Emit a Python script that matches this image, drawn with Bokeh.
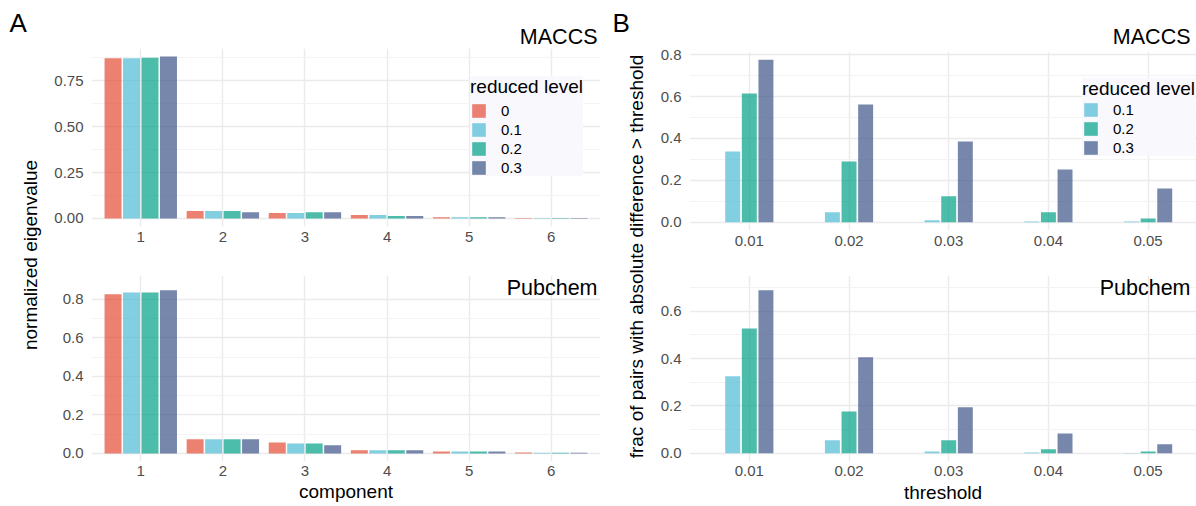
import numpy as np
from bokeh.plotting import figure
from bokeh.models import (FixedTicker, PrintfTickFormatter, Legend, LegendItem, Label, Range1d, Title)
from bokeh.layouts import row, column
from bokeh.embed import file_html
from bokeh.resources import INLINE

# ---------------- data ----------------
components = ["1", "2", "3", "4", "5", "6"]
levels_a = ["0", "0.1", "0.2", "0.3"]
levels_b = ["0.1", "0.2", "0.3"]

maccs_eig_l0 = [0.873, 0.040, 0.029, 0.018, 0.007, 0.003]
maccs_eig_l1 = [0.873, 0.040, 0.029, 0.018, 0.007, 0.002]
maccs_eig_l2 = [0.876, 0.040, 0.034, 0.013, 0.007, 0.002]
maccs_eig_l3 = [0.882, 0.034, 0.034, 0.013, 0.007, 0.002]

pubchem_eig_l0 = [0.826, 0.073, 0.057, 0.016, 0.010, 0.005]
pubchem_eig_l1 = [0.836, 0.073, 0.052, 0.016, 0.010, 0.004]
pubchem_eig_l2 = [0.836, 0.073, 0.052, 0.016, 0.010, 0.004]
pubchem_eig_l3 = [0.847, 0.073, 0.042, 0.016, 0.010, 0.004]

thresholds = ["0.01", "0.02", "0.03", "0.04", "0.05"]
maccs_frac_l1 = [0.338, 0.048, 0.010, 0.004, 0.004]
maccs_frac_l2 = [0.614, 0.290, 0.124, 0.048, 0.019]
maccs_frac_l3 = [0.776, 0.562, 0.386, 0.252, 0.162]

pubchem_frac_l1 = [0.325, 0.055, 0.008, 0.004, 0.001]
pubchem_frac_l2 = [0.527, 0.177, 0.055, 0.017, 0.008]
pubchem_frac_l3 = [0.688, 0.405, 0.194, 0.084, 0.038]

colors_a = ["#E64B35", "#4DBBD5", "#00A087", "#3C5488"]
colors_b = ["#4DBBD5", "#00A087", "#3C5488"]

FONT = "Liberation Sans"
TICK_COLOR = "#4D4D4D"
GRID_MAJOR = "#EBEBEB"
GRID_MINOR = "#F3F3F3"
STRIP_SIZE = "21.5px"
TITLE_SIZE = "19px"


def base_fig(width, height, xr, yr, mb_left, mb_top, mb_bottom, yticks, yminor, yfmt, xticks, xlabels):
    p = figure(width=width, height=height, x_range=Range1d(*xr), y_range=Range1d(*yr),
               toolbar_location=None, output_backend="svg",
               min_border_left=mb_left, min_border_right=0,
               min_border_top=mb_top, min_border_bottom=mb_bottom)
    p.outline_line_color = None
    p.background_fill_color = "white"
    p.border_fill_color = "white"
    for ax in (p.xaxis[0], p.yaxis[0]):
        ax.axis_line_color = None
        ax.major_tick_line_color = None
        ax.minor_tick_line_color = None
        ax.major_tick_out = 0
        ax.major_tick_in = 0
        ax.minor_tick_out = 0
        ax.minor_tick_in = 0
        ax.major_label_text_font = FONT
        ax.major_label_text_font_size = "15px"
        ax.major_label_text_color = TICK_COLOR
        ax.axis_label_text_font = FONT
        ax.axis_label_text_font_size = TITLE_SIZE
        ax.axis_label_text_font_style = "normal"
        ax.axis_label_text_color = "black"
    p.yaxis[0].ticker = FixedTicker(ticks=yticks, minor_ticks=yminor)
    p.yaxis[0].formatter = PrintfTickFormatter(format=yfmt)
    p.yaxis[0].major_label_standoff = 8
    p.xaxis[0].ticker = FixedTicker(ticks=xticks)
    p.xaxis[0].major_label_overrides = {t: l for t, l in zip(xticks, xlabels)}
    p.xaxis[0].major_label_standoff = 5
    p.ygrid.grid_line_color = GRID_MAJOR
    p.ygrid.grid_line_width = 1.4
    p.ygrid.minor_grid_line_color = GRID_MINOR
    p.ygrid.minor_grid_line_width = 1
    p.xgrid.grid_line_color = GRID_MAJOR
    p.xgrid.grid_line_width = 1.4
    return p


def add_bars(p, cats, series, colors, step, width):
    n = len(series)
    xs = np.arange(1, len(cats) + 1)
    rs = []
    for i, (vals, col) in enumerate(zip(series, colors)):
        off = (i - (n - 1) / 2) * step
        r = p.vbar(x=xs + off, top=vals, bottom=0, width=width, fill_color=col,
                   fill_alpha=0.7, line_color=None)
        rs.append(r)
    return rs


def add_legend(p, rs, labels, loc, standoff):
    items = [LegendItem(label=l, renderers=[r]) for l, r in zip(labels, rs)]
    lg = Legend(items=items, location=loc, title="reduced level",
                title_text_font=FONT, title_text_font_size=TITLE_SIZE, title_text_color="black",
                title_text_font_style="normal", title_standoff=standoff,
                label_text_font=FONT, label_text_font_size="15px", label_text_color="black",
                glyph_width=17, glyph_height=17, label_height=17, spacing=2,
                label_standoff=14, padding=7, margin=0,
                background_fill_color="#F8F8FD", background_fill_alpha=1.0,
                border_line_color=None)
    p.add_layout(lg)


def strip_title(p, text, standoff, offset):
    p.add_layout(Title(text=text, align="right", vertical_align="bottom", standoff=standoff,
                       offset=offset, text_font=FONT, text_font_size=STRIP_SIZE,
                       text_font_style="normal", text_color="black"), "above")


def strip_inside(p, text, xoff, yoff):
    p.add_layout(Label(x=p.x_range.end, y=p.y_range.end, x_offset=xoff, y_offset=yoff, text=text,
                       text_align="right", text_baseline="middle", text_font=FONT,
                       text_font_size=STRIP_SIZE, text_color="black"))


def text_fig(width, height):
    p = figure(width=width, height=height, x_range=Range1d(0, width), y_range=Range1d(0, height),
               x_axis_type=None, y_axis_type=None, toolbar_location=None, output_backend="svg",
               min_border=0)
    p.outline_line_color = None
    p.grid.visible = False
    return p


def put(p, x, y, text, size, align="center", angle=0.0):
    p.add_layout(Label(x=x, y=y, text=text, angle=angle, text_align=align, text_baseline="middle",
                       text_font=FONT, text_font_size=size, text_color="black"))


cx_a = list(range(1, len(components) + 1))
cx_b = list(range(1, len(thresholds) + 1))

# ---------------- panel A ----------------
a_top = base_fig(554, 253, (0.4, 6.6), (-0.044, 0.926), 45, 48, 27,
                 [0, 0.25, 0.5, 0.75], [0.125, 0.375, 0.625, 0.875], "%.2f", cx_a, components)
rs = add_bars(a_top, components, [maccs_eig_l0, maccs_eig_l1, maccs_eig_l2, maccs_eig_l3],
              colors_a, 0.225, 0.207)
add_legend(a_top, rs, levels_a, (379, 50), 4)
strip_title(a_top, "MACCS", 0, 3)

a_bot = base_fig(554, 253, (0.4, 6.6), (-0.042, 0.924), 45, 22, 45,
                 [0, 0.2, 0.4, 0.6, 0.8], [0.1, 0.3, 0.5, 0.7], "%.1f", cx_a, components)
add_bars(a_bot, components, [pubchem_eig_l0, pubchem_eig_l1, pubchem_eig_l2, pubchem_eig_l3],
         colors_a, 0.225, 0.207)
strip_inside(a_bot, "Pubchem", -3, -12)
a_bot.xaxis[0].major_label_standoff = 4
a_bot.xaxis[0].axis_label = "component"
a_bot.xaxis[0].axis_label_standoff = 2

# ---------------- panel B ----------------
b_end = 0.4 + 507 / 99.7
b_top = base_fig(550, 253, (0.4, b_end), (-0.0388, 0.8148), 43, 51, 23,
                 [0, 0.2, 0.4, 0.6, 0.8], [0.1, 0.3, 0.5, 0.7], "%.1f", cx_b, thresholds)
rs = add_bars(b_top, thresholds, [maccs_frac_l1, maccs_frac_l2, maccs_frac_l3],
              colors_b, 1 / 6, 0.15)
add_legend(b_top, rs, levels_b, (393, 74), 1)
strip_title(b_top, "MACCS", 5, 6)

b_bot = base_fig(550, 253, (0.4, b_end), (-0.0344, 0.7504), 43, 22, 45,
                 [0, 0.2, 0.4, 0.6], [0.1, 0.3, 0.5, 0.7], "%.1f", cx_b, thresholds)
add_bars(b_bot, thresholds, [pubchem_frac_l1, pubchem_frac_l2, pubchem_frac_l3],
         colors_b, 1 / 6, 0.15)
strip_inside(b_bot, "Pubchem", -6, -12)
b_bot.xaxis[0].major_label_standoff = 4
b_bot.xaxis[0].axis_label = "threshold"
b_bot.xaxis[0].axis_label_standoff = 3

# ---------------- side label strips ----------------
la = text_fig(46, 506)
put(la, 9, 506 - 22, "A", "26px", "left")
put(la, 30, 506 - 254.5, "normalized eigenvalue", TITLE_SIZE, "center", np.pi / 2)

lb = text_fig(46, 506)
put(lb, 12, 506 - 22, "B", "26px", "left")
put(lb, 36, 506 - 256, "frac of pairs with absolute difference > threshold", TITLE_SIZE,
    "center", np.pi / 2)

layout = row(la, column(a_top, a_bot), lb, column(b_top, b_bot))

open("out.html", "w").write(file_html(layout, INLINE))
